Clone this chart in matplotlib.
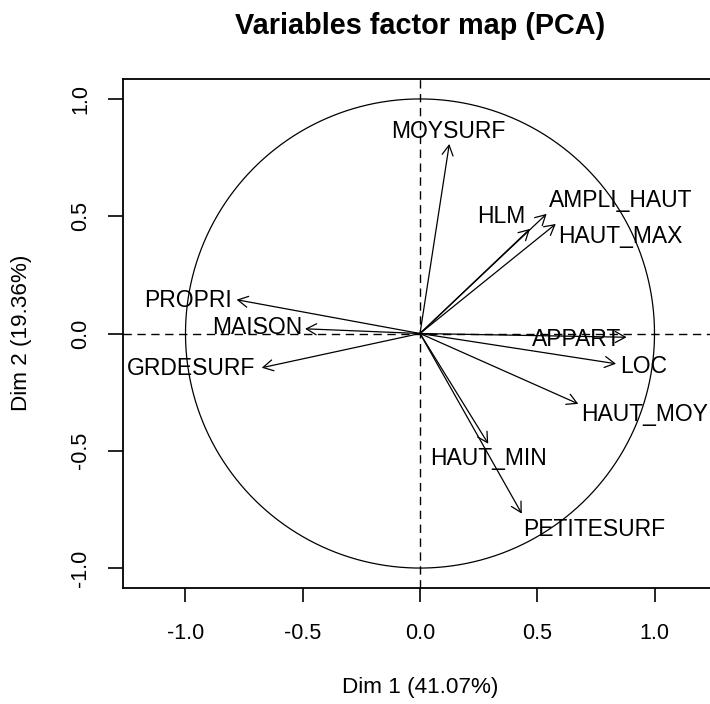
import matplotlib
matplotlib.use("Agg")
import matplotlib.pyplot as plt
import numpy as np

# ---- data ----
variables = ["MOYSURF", "HLM", "AMPLI_HAUT", "HAUT_MAX", "APPART", "LOC",
             "HAUT_MOY", "HAUT_MIN", "PETITESURF", "PROPRI", "MAISON", "GRDESURF"]
dim1 = [0.125, 0.469, 0.540, 0.579, 0.881, 0.836, 0.675, 0.291, 0.434, -0.782, -0.490, -0.675]
dim2 = [0.808, 0.446, 0.510, 0.467, -0.016, -0.129, -0.300, -0.470, -0.768, 0.144, 0.020, -0.146]
ticks = [-1.0, -0.5, 0.0, 0.5, 1.0]
tick_labels = ["-1.0", "-0.5", "0.0", "0.5", "1.0"]
title = "Variables factor map (PCA)"
xlabel = "Dim 1 (41.07%)"
ylabel = "Dim 2 (19.36%)"

# label offsets from arrow tip (pixels, right / down)
label_offsets_px = [(-1, -12), (-29, -12), (74, -13), (65, 13), (-50, 2), (28, 3),
                    (66, 11), (0, 15), (72, 16), (-49, 1), (-48, -1), (-71, 1)]

plt.rcParams["font.family"] = ["Liberation Sans", "DejaVu Sans"]
W, H = 710, 704
DPI = 100
fig = plt.figure(figsize=(W / DPI, H / DPI), dpi=DPI)

# axes box in pixels
left_px, right_px, top_px, bottom_px = 123, 717, 79, 588
ax = fig.add_axes([left_px / W, (H - bottom_px) / H,
                   (right_px - left_px) / W, (bottom_px - top_px) / H])
ax.set_xlim(-1.2665, 1.2665)
ax.set_ylim(-1.085, 1.085)

for s in ax.spines.values():
    s.set_linewidth(1.3)
    s.set_color("black")

fs_tick = 15.5
fs_lab = 16.5
fs_axis = 16.2
ax.set_xticks(ticks)
ax.set_xticklabels(tick_labels, fontsize=fs_tick)
ax.set_yticks(ticks)
ax.set_yticklabels(tick_labels, fontsize=fs_tick, rotation=90, va="center")
ax.tick_params(axis="x", length=10, width=1.2, pad=15, color="black")
ax.tick_params(axis="y", length=11, width=1.2, pad=12, color="black")

# unit circle
theta = np.linspace(0, 2 * np.pi, 400)
ax.plot(np.cos(theta), np.sin(theta), color="black", lw=0.9)

# dashed axes
ax.axhline(0, color="black", lw=1.0, ls=(0, (6, 4)))
ax.axvline(0, color="black", lw=1.0, ls=(0, (6, 4)))

# arrows and labels
for name, x, y, (dx, dy) in zip(variables, dim1, dim2, label_offsets_px):
    ax.annotate("", xy=(x, y), xytext=(0, 0),
                arrowprops=dict(arrowstyle="->,head_length=0.6,head_width=0.33",
                                lw=0.9, color="black", shrinkA=0, shrinkB=0,
                                mutation_scale=12))
    ax.annotate(name, xy=(x, y), xytext=(dx * 72 / DPI, -dy * 72 / DPI),
                textcoords="offset points", ha="center", va="center",
                fontsize=fs_lab, color="black")

fig.text(420 / W, 1 - 26 / H, title, ha="center", va="center",
         fontsize=20.8, fontweight="bold")
fig.text(420 / W, 1 - 688 / H, xlabel, ha="center", va="center", fontsize=fs_axis)
fig.text(22 / W, 1 - 333 / H, ylabel, ha="center", va="center", fontsize=fs_axis,
         rotation=90)

fig.savefig("out.png", dpi=DPI)
